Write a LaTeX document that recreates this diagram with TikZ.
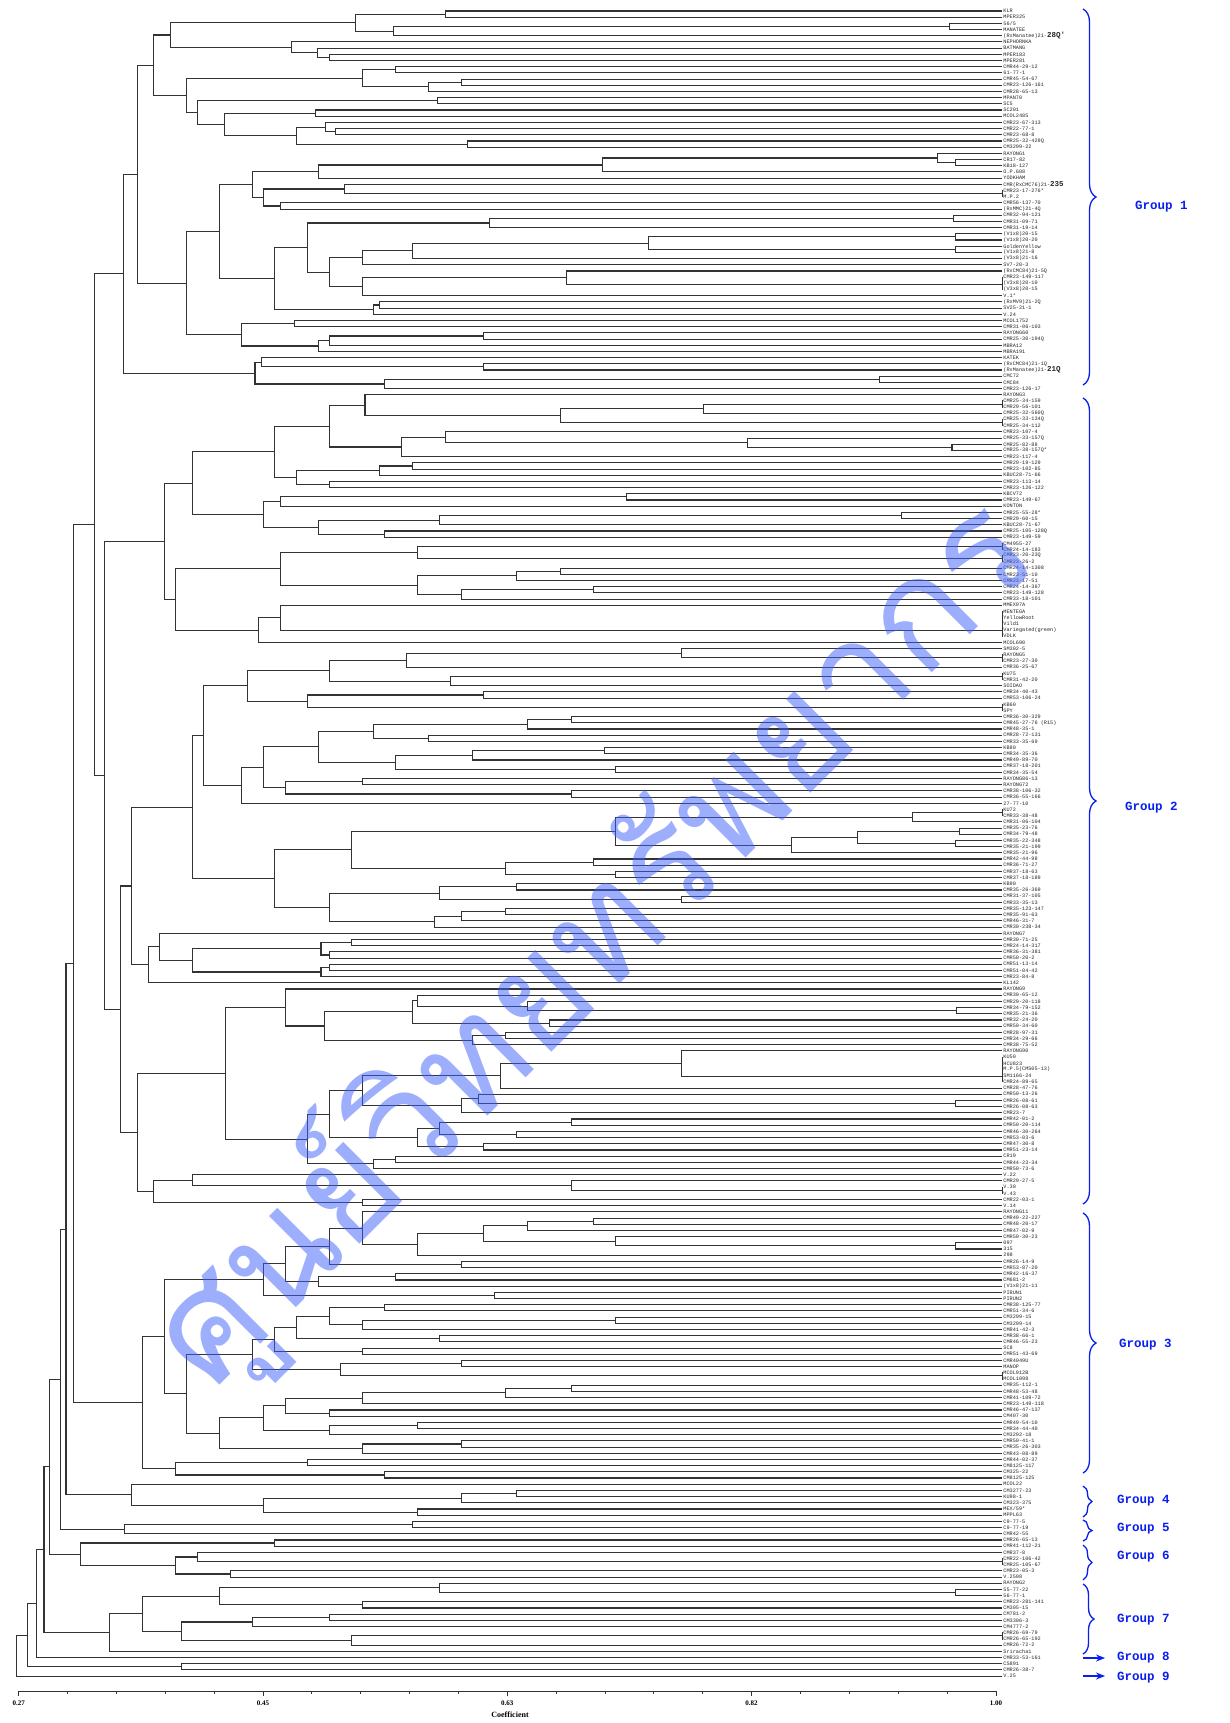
\documentclass[tikz,border=0pt]{standalone}
\usepackage{fontspec}
\setmainfont{Liberation Serif}
\newfontfamily\monof{Liberation Mono}
\newfontfamily\thaif[Script=Thai]{Loma}
\usetikzlibrary{calc,decorations.pathreplacing,arrows.meta}
\definecolor{grpblue}{RGB}{10,30,240}
\definecolor{wmblue}{RGB}{60,95,250}
\tikzset{
  lab/.style={anchor=west,inner sep=0.2pt,font=\monof\fontsize{5.2}{5.6}\selectfont,text=black!85},
  br/.style={draw=black!80,line width=1.1pt},
  gbrace/.style={draw=grpblue,line width=1.3pt,decorate,decoration={brace,amplitude=13pt}},
  glab/.style={anchor=west,inner sep=0pt,text=grpblue,font=\monof\bfseries\fontsize{12.5}{13}\selectfont},
  garrow/.style={draw=grpblue,line width=1.3pt,-{Stealth[length=9pt,width=7pt]}},
  ax/.style={draw=black!80,line width=0.8pt}
}
\newcommand\lf[2]{\coordinate (L#1) at (1002,{-(11+(#1-1)*6.19)});
  \node[lab] (t#1) at (1003,{-(11+(#1-1)*6.19)}) {#2};}
\newcommand\jn[4]{\path let \p1=(#3), \p2=(#4) in coordinate (#1) at ({#2*1.0993},{0.5*(\y1+\y2)});
  \draw[br] (#3) -| (#1) |- (#4);}
\newcommand\bg[1]{{\fontsize{7.5}{7.5}\selectfont\bfseries #1}}
\begin{document}
\begin{tikzpicture}[x=1pt,y=1pt]
\fill[white] (0,0) rectangle (1229,-1723);
\useasboundingbox (0,0) rectangle (1229,-1723);
% ---------------- leaves ----------------
\lf{1}{KLR}\lf{2}{MPER325}\lf{3}{56/5}\lf{4}{MANATEE}\lf{5}{(RxManatee)21-\bg{28Q'}}
\lf{6}{NEPHORNKA}\lf{7}{BATMANG}\lf{8}{MPER183}\lf{9}{MPER281}\lf{10}{CMR44-29-12}
\lf{11}{61-77-1}\lf{12}{CMR45-54-67}\lf{13}{CMR23-126-161}\lf{14}{CMR28-65-13}\lf{15}{MPAN70}
\lf{16}{SC5}\lf{17}{SC201}\lf{18}{MCOL2485}\lf{19}{CMR23-67-313}\lf{20}{CMR22-77-1}
\lf{21}{CMR23-68-8}\lf{22}{CMR25-32-429Q}\lf{23}{CM3299-22}\lf{24}{RAYONG1}\lf{25}{CR17-82}
\lf{26}{KB18-127}\lf{27}{O.P.608}\lf{28}{YODKHAM}\lf{29}{CMR(RxCMC76)21-\bg{235}}\lf{30}{CMR23-17-276*}
\lf{31}{M.P.2}\lf{32}{CMR56-137-70}\lf{33}{(RxMMC)21-4Q}\lf{34}{CMR32-94-121}\lf{35}{CMR31-09-71}
\lf{36}{CMR31-19-14}\lf{37}{(V1x8)20-15}\lf{38}{(V1x8)20-20}\lf{39}{GoldenYellow}\lf{40}{(V1x8)21-8}
\lf{41}{(V3x8)21-16}\lf{42}{SV7-20-3}\lf{43}{(RxCMC84)21-5Q}\lf{44}{CMR23-149-117}\lf{45}{(V3x8)20-10}
\lf{46}{(V3x8)20-15}\lf{47}{V.1*}\lf{48}{(RxMV9)21-2Q}\lf{49}{SV25-21-1}\lf{50}{V.24}
\lf{51}{MCOL1752}\lf{52}{CMR31-06-103}\lf{53}{RAYONG60}\lf{54}{CMR25-30-194Q}\lf{55}{MBRA12}
\lf{56}{MBRA191}\lf{57}{KATEK}\lf{58}{(RxCMC84)21-1Q}\lf{59}{(RxManatee)21-\bg{21Q}}\lf{60}{CMC72}
\lf{61}{CMC84}\lf{62}{CMR23-126-17}\lf{63}{RAYONG3}\lf{64}{CMR25-34-159}\lf{65}{CMR29-56-101}
\lf{66}{CMR25-32-560Q}\lf{67}{CMR25-33-134Q}\lf{68}{CMR25-34-112}\lf{69}{CMR23-107-4}\lf{70}{CMR25-33-157Q}
\lf{71}{CMR25-82-88}\lf{72}{CMR25-38-157Q*}\lf{73}{CMR23-117-4}\lf{74}{CMR29-19-129}\lf{75}{CMR23-102-85}
\lf{76}{KBUC28-71-66}\lf{77}{CMR23-113-14}\lf{78}{CMR23-126-122}\lf{79}{KBCV72}\lf{80}{CMR23-149-67}
\lf{81}{KONTON}\lf{82}{CMR25-55-28*}\lf{83}{CMR29-60-15}\lf{84}{KBUC28-71-67}\lf{85}{CMR25-105-128Q}
\lf{86}{CMR23-149-59}\lf{87}{CM4955-27}\lf{88}{CMR24-14-183}\lf{89}{CMR23-20-23Q}\lf{90}{CMR23-26-2}
\lf{91}{CMR24-14-1308}\lf{92}{CMR23-51-10}\lf{93}{CMR23-17-51}\lf{94}{CMR24-14-367}\lf{95}{CMR23-149-128}
\lf{96}{CMR33-18-101}\lf{97}{MMEX97A}\lf{98}{MENTEGA}\lf{99}{YellowRoot}\lf{100}{Vild1}
\lf{101}{Variegated(green)}\lf{102}{VDLK}\lf{103}{MCOL690}\lf{104}{SM302-5}\lf{105}{RAYONG5}
\lf{106}{CMR23-27-30}\lf{107}{CMR36-25-67}\lf{108}{KU75}\lf{109}{CMR31-42-20}\lf{110}{SOIDAO}
\lf{111}{CMR34-40-43}\lf{112}{CMR53-106-24}\lf{113}{KB60}\lf{114}{SPY}\lf{115}{CMR36-30-329}
\lf{116}{CMR45-27-76 (R15)}\lf{117}{CMR48-35-1}\lf{118}{CMR28-72-131}\lf{119}{CMR33-35-69}\lf{120}{KB80}
\lf{121}{CMR34-35-36}\lf{122}{CMR49-89-70}\lf{123}{CMR37-18-201}\lf{124}{CMR34-35-54}\lf{125}{RAYONG86-13}
\lf{126}{RAYONG72}\lf{127}{CMR38-106-32}\lf{128}{CMR36-55-166}\lf{129}{27-77-10}\lf{130}{KU72}
\lf{131}{CMR33-38-48}\lf{132}{CMR31-06-104}\lf{133}{CMR35-23-76}\lf{134}{CMR34-79-48}\lf{135}{CMR35-22-348}
\lf{136}{CMR35-21-199}\lf{137}{CMR35-21-96}\lf{138}{CMR42-44-98}\lf{139}{CMR36-71-27}\lf{140}{CMR37-18-63}
\lf{141}{CMR37-18-189}\lf{142}{KB90}\lf{143}{CMR35-26-369}\lf{144}{CMR31-37-105}\lf{145}{CMR33-35-13}
\lf{146}{CMR35-123-147}\lf{147}{CMR35-91-63}\lf{148}{CMR46-31-7}\lf{149}{CMR30-238-34}\lf{150}{RAYONG7}
\lf{151}{CMR30-71-25}\lf{152}{CMR24-14-317}\lf{153}{CMR36-31-381}\lf{154}{CMR50-20-2}\lf{155}{CMR51-13-14}
\lf{156}{CMR51-04-42}\lf{157}{CMR23-84-8}\lf{158}{KL142}\lf{159}{RAYONG9}\lf{160}{CMR30-65-12}
\lf{161}{CMR29-20-118}\lf{162}{CMR34-79-152}\lf{163}{CMR35-21-36}\lf{164}{CMR32-24-20}\lf{165}{CMR50-34-60}
\lf{166}{CMR28-97-31}\lf{167}{CMR34-29-66}\lf{168}{CMR38-75-52}\lf{169}{RAYONG90}\lf{170}{KU50}
\lf{171}{HCU823}\lf{172}{M.P.5(CM505-13)}\lf{173}{SM1166-24}\lf{174}{CMR24-89-65}\lf{175}{CMR28-47-76}
\lf{176}{CMR50-13-26}\lf{177}{CMR26-08-61}\lf{178}{CMR26-08-63}\lf{179}{CMR23-7}\lf{180}{CMR42-01-2}
\lf{181}{CMR50-20-114}\lf{182}{CMR46-30-264}\lf{183}{CMR53-03-6}\lf{184}{CMR47-30-8}\lf{185}{CMR51-23-14}
\lf{186}{CR19}\lf{187}{CMR44-23-34}\lf{188}{CMR50-73-6}\lf{189}{V.22}\lf{190}{CMR29-27-5}
\lf{191}{V.30}\lf{192}{V.43}\lf{193}{CMR22-03-1}\lf{194}{V.14}\lf{195}{RAYONG11}
\lf{196}{CMR49-22-227}\lf{197}{CMR48-20-17}\lf{198}{CMR47-02-9}\lf{199}{CMR50-30-23}\lf{200}{097}
\lf{201}{315}\lf{202}{298}\lf{203}{CMR26-14-9}\lf{204}{CMR53-87-20}\lf{205}{CMR42-16-37}
\lf{206}{CM681-2}\lf{207}{(V1x8)21-11}\lf{208}{PIRUN1}\lf{209}{PIRUN2}\lf{210}{CMR38-125-77}
\lf{211}{CMR51-34-6}\lf{212}{CM3299-15}\lf{213}{CM3299-14}\lf{214}{CMR41-42-3}\lf{215}{CMR38-66-1}
\lf{216}{CMR46-55-23}\lf{217}{SC8}\lf{218}{CMR51-43-69}\lf{219}{CMR4049U}\lf{220}{MANOP}
\lf{221}{MCOL912B}\lf{222}{MCOL1098}\lf{223}{CMR35-112-1}\lf{224}{CMR48-53-48}\lf{225}{CMR41-109-72}
\lf{226}{CMR23-149-118}\lf{227}{CMR46-47-137}\lf{228}{CM407-30}\lf{229}{CMR49-54-10}\lf{230}{CMR34-44-40}
\lf{231}{CM3292-18}\lf{232}{CMR50-41-1}\lf{233}{CMR35-26-303}\lf{234}{CMR43-08-89}\lf{235}{CMR44-02-37}
\lf{236}{CM8125-117}\lf{237}{CM325-22}\lf{238}{CM8125-125}\lf{239}{MCOL22}\lf{240}{CM3277-23}
\lf{241}{KU98-1}\lf{242}{CM323-375}\lf{243}{MEX/59*}\lf{244}{MPPL63}\lf{245}{C9-77-5}
\lf{246}{C9-77-19}\lf{247}{CMR42-55}\lf{248}{CMR26-65-13}\lf{249}{CMR41-112-21}\lf{250}{CMR37-8}
\lf{251}{CMR22-106-42}\lf{252}{CMR25-105-67}\lf{253}{CMR23-05-3}\lf{254}{V.2598}\lf{255}{RAYONG2}
\lf{256}{55-77-22}\lf{257}{56-77-1}\lf{258}{CMR23-281-141}\lf{259}{CM305-15}\lf{260}{CM781-2}
\lf{261}{CM3306-3}\lf{262}{CM4777-2}\lf{263}{CMR26-69-79}\lf{264}{CMR26-65-192}\lf{265}{CMR26-72-2}
\lf{266}{Sriracha1}\lf{267}{CMR33-53-161}\lf{268}{CS891}\lf{269}{CMR26-38-7}\lf{270}{V.25}
% ---------------- group 1 ----------------
\jn{a1}{405}{L1}{L2}\jn{a2}{864}{L3}{L4}\jn{a3}{358}{a2}{L5}\jn{a4}{323}{a1}{a3}
\jn{a5}{300}{L8}{L9}\jn{a6}{289}{L7}{a5}\jn{a7}{265}{L6}{a6}\jn{a8}{155}{a4}{a7}
\jn{b1}{360}{L10}{L11}\jn{b2}{420}{L12}{L13}\jn{b3}{390}{b2}{L14}\jn{b4}{330}{b1}{b3}
\jn{b5}{398}{L15}{L16}\jn{b6}{287}{L17}{L18}\jn{b7}{305}{L20}{L21}\jn{b8}{296}{L19}{b7}
\jn{b9}{425}{L22}{L23}\jn{b10}{270}{b8}{b9}\jn{b11}{204}{b6}{b10}\jn{b12}{180}{b5}{b11}
\jn{b13}{170}{b4}{b12}\jn{b14}{140}{a8}{b13}
\jn{c1}{869}{L25}{L26}\jn{c2}{853}{L24}{c1}\jn{c3}{548}{c2}{L27}\jn{c4}{290}{c3}{L28}
\jn{c5}{912}{L30}{L31}\jn{c6}{313}{L29}{c5}\jn{c7}{255}{L32}{L33}\jn{c8}{240}{c6}{c7}
\jn{c9}{230}{c4}{c8}
\jn{d1}{867}{L34}{L35}\jn{d2}{445}{d1}{L36}\jn{d3}{869}{L37}{L38}\jn{d4}{869}{L39}{L40}
\jn{d5}{590}{d3}{d4}\jn{d6}{375}{d5}{L41}\jn{d7}{330}{d6}{L42}\jn{d8}{912}{L44}{L45}
\jn{d9}{912}{d8}{L46}\jn{d10}{515}{L43}{d9}\jn{d11}{330}{d10}{L47}\jn{d12}{300}{d7}{d11}
\jn{d13}{280}{d2}{d12}\jn{d14}{345}{L48}{L49}\jn{d15}{340}{d14}{L50}\jn{d16}{250}{d13}{d15}
\jn{d17}{200}{c9}{d16}
\jn{e1}{268}{L51}{L52}\jn{e2}{440}{L53}{L54}\jn{e3}{300}{e2}{L55}\jn{e4}{290}{e3}{L56}
\jn{e5}{220}{e1}{e4}\jn{f1}{170}{d17}{e5}\jn{g1}{125}{b14}{f1}
\jn{h1}{440}{L58}{L59}\jn{h2}{238}{L57}{h1}\jn{h3}{800}{L60}{L61}\jn{h4}{350}{h3}{L62}
\jn{h5}{232}{h2}{h4}\jn{G1}{112}{g1}{h5}
% ---------------- group 2 ----------------
\jn{k1}{912}{L64}{L65}\jn{k2}{640}{k1}{L66}\jn{k3}{912}{L67}{L68}\jn{k4}{510}{k2}{k3}
\jn{k5}{332}{L63}{k4}\jn{k6}{866}{L71}{L72}\jn{k7}{680}{L70}{k6}\jn{k8}{405}{L69}{k7}
\jn{k9}{365}{k8}{L73}\jn{k10}{300}{k5}{k9}\jn{k11}{375}{L74}{L75}\jn{k12}{345}{k11}{L76}
\jn{k13}{300}{L77}{L78}\jn{k14}{270}{k12}{k13}\jn{k15}{250}{k10}{k14}
\jn{k16}{570}{L79}{L80}\jn{k17}{255}{k16}{L81}\jn{k18}{820}{L82}{L83}\jn{k19}{400}{k18}{L84}
\jn{k20}{350}{L85}{L86}\jn{k21}{290}{k19}{k20}\jn{k22}{240}{k17}{k21}\jn{k23}{175}{k15}{k22}
\jn{k24}{912}{L87}{L88}\jn{k25}{912}{L89}{L90}\jn{k26}{380}{k24}{k25}\jn{k27}{510}{L91}{L92}
\jn{k28}{470}{k27}{L93}\jn{k29}{540}{L94}{L95}\jn{k30}{420}{k29}{L96}\jn{k31}{380}{k28}{k30}
\jn{k32}{255}{k26}{k31}
\jn{k34}{912}{L98}{L99}\jn{k35}{912}{k34}{L100}\jn{k36}{912}{k35}{L101}\jn{k37}{912}{k36}{L102}
\jn{k38}{255}{L97}{k37}\jn{k39}{235}{k38}{L103}\jn{k40}{160}{k32}{k39}\jn{K2a}{150}{k23}{k40}
\jn{m1}{912}{L105}{L106}\jn{m2}{620}{L104}{m1}\jn{m3}{370}{m2}{L107}\jn{m4}{912}{L108}{L109}
\jn{m5}{410}{m4}{L110}\jn{m6}{300}{m3}{m5}\jn{m7}{440}{L111}{L112}\jn{m8}{912}{L113}{L114}
\jn{m9}{280}{m7}{m8}\jn{m10}{225}{m6}{m9}
\jn{m11}{520}{L115}{L116}\jn{m12}{480}{m11}{L117}\jn{m13}{390}{L118}{L119}\jn{m14}{340}{m12}{m13}
\jn{m15}{550}{L120}{L121}\jn{m16}{430}{m15}{L122}\jn{m17}{560}{L123}{L124}\jn{m18}{360}{m16}{m17}
\jn{m19}{290}{m14}{m18}\jn{m20}{330}{L125}{L126}\jn{m21}{520}{L127}{L128}\jn{m22}{260}{m20}{m21}
\jn{m23}{240}{m19}{m22}\jn{m24}{220}{m23}{L129}\jn{m25}{185}{m10}{m24}
\jn{m26}{912}{L130}{L131}\jn{m27}{830}{m26}{L132}\jn{m28}{873}{L133}{L134}\jn{m29}{869}{L135}{L136}
\jn{m30}{780}{m28}{m29}\jn{m31}{720}{m30}{L137}\jn{m32}{560}{m27}{m31}\jn{m33}{540}{L138}{L139}
\jn{m34}{560}{L140}{L141}\jn{m35}{460}{m33}{m34}\jn{m36}{320}{m32}{m35}\jn{m37}{470}{L142}{L143}
\jn{m38}{620}{L144}{L145}\jn{m39}{400}{m37}{m38}\jn{m40}{460}{L146}{L147}\jn{m41}{420}{m40}{L148}
\jn{m42}{395}{m41}{L149}\jn{m43}{300}{m39}{m42}\jn{m44}{250}{m36}{m43}\jn{m45}{175}{m25}{m44}
\jn{n1}{320}{L151}{L152}\jn{n2}{300}{L153}{L154}\jn{n3}{292}{n1}{n2}\jn{n4}{300}{L155}{L156}
\jn{n5}{292}{n4}{L157}\jn{n6}{175}{n3}{n5}\jn{n7}{145}{L150}{n6}\jn{n8}{135}{n7}{L158}
\jn{p1}{870}{L162}{L163}\jn{p2}{480}{L161}{p1}\jn{p3}{380}{L160}{p2}\jn{p4}{500}{L164}{L165}
\jn{p5}{375}{p3}{p4}\jn{p6}{460}{L166}{L167}\jn{p7}{430}{p6}{L168}\jn{p8}{295}{p5}{p7}
\jn{p9}{260}{L159}{p8}
\jn{q1}{912}{L170}{L171}\jn{q2}{912}{q1}{L172}\jn{q3}{912}{q2}{L173}\jn{q4}{912}{q3}{L174}
\jn{q5}{620}{L169}{q4}\jn{q6}{455}{q5}{L175}\jn{q7}{869}{L177}{L178}\jn{q8}{435}{L176}{q7}
\jn{q9}{420}{q8}{L179}\jn{q10}{330}{q6}{q9}\jn{q11}{520}{L180}{L181}\jn{q12}{470}{L182}{L183}
\jn{q13}{400}{q11}{q12}\jn{q14}{440}{L184}{L185}\jn{q15}{380}{q13}{q14}\jn{q16}{300}{q10}{q15}
\jn{q17}{360}{L186}{L187}\jn{q18}{340}{q17}{L188}\jn{q19}{280}{q16}{q18}\jn{q20}{205}{p9}{q19}
\jn{r1}{912}{L191}{L192}\jn{r2}{520}{L190}{r1}\jn{r3}{175}{L189}{r2}\jn{r4}{330}{L193}{L194}
\jn{r5}{140}{r3}{r4}\jn{r6}{125}{q20}{r5}
\jn{s1}{120}{m45}{n8}\jn{s2}{110}{s1}{r6}\jn{G2}{95}{K2a}{s2}
% ---------------- group 3 ----------------
\jn{t1}{540}{L196}{L197}\jn{t2}{480}{t1}{L198}\jn{t3}{869}{L200}{L201}\jn{t4}{560}{L199}{t3}
\jn{t5}{440}{t2}{t4}\jn{t6}{380}{t5}{L202}\jn{t7}{330}{L195}{t6}\jn{t8}{420}{L203}{L204}
\jn{t9}{300}{t7}{t8}\jn{t10}{360}{L205}{L206}\jn{t11}{290}{t10}{L207}\jn{t12}{260}{t9}{t11}
\jn{t13}{450}{L208}{L209}\jn{t14}{240}{t12}{t13}
\jn{u1}{350}{L210}{L211}\jn{u2}{560}{L212}{L213}\jn{u3}{330}{u2}{L214}\jn{u4}{300}{u1}{u3}
\jn{u5}{400}{L215}{L216}\jn{u6}{270}{u4}{u5}\jn{u7}{330}{L217}{L218}\jn{u8}{250}{u6}{u7}
\jn{u9}{420}{L219}{L220}\jn{u10}{912}{L221}{L222}\jn{u11}{310}{u9}{u10}\jn{u12}{230}{u8}{u11}
\jn{v1}{520}{L223}{L224}\jn{v2}{460}{v1}{L225}\jn{v3}{330}{v2}{L226}\jn{v4}{300}{L227}{L228}
\jn{v5}{260}{v3}{v4}\jn{v6}{380}{L229}{L230}\jn{v7}{300}{v6}{L231}\jn{v8}{240}{v5}{v7}
\jn{v9}{420}{L232}{L233}\jn{v10}{330}{v9}{L234}\jn{v11}{200}{v8}{v10}\jn{v12}{170}{u12}{v11}
\jn{w1}{280}{L235}{L236}\jn{w2}{350}{L237}{L238}\jn{w3}{160}{w1}{w2}\jn{w4}{150}{t14}{v12}
\jn{G3}{130}{w4}{w3}
% ---------------- groups 4-9 ----------------
\jn{x1}{470}{L240}{L241}\jn{x2}{420}{x1}{L242}\jn{x3}{380}{L243}{L244}\jn{x4}{240}{x2}{x3}
\jn{G4}{120}{L239}{x4}
\jn{y1}{375}{L245}{L246}\jn{G5}{113}{y1}{L247}
\jn{z1}{250}{L248}{L249}\jn{z2}{912}{L251}{L252}\jn{z3}{180}{L250}{z2}\jn{z4}{210}{L253}{L254}
\jn{z5}{160}{z3}{z4}\jn{G6}{73}{z1}{z5}
\jn{aa1}{869}{L256}{L257}\jn{aa2}{400}{L255}{aa1}\jn{aa3}{330}{L258}{L259}\jn{aa4}{200}{aa2}{aa3}
\jn{aa5}{300}{L260}{L261}\jn{aa6}{230}{aa5}{L262}\jn{aa7}{912}{L263}{L264}\jn{aa8}{320}{aa7}{L265}
\jn{aa9}{165}{aa6}{aa8}\jn{aa10}{130}{aa4}{aa9}\jn{G7}{100}{aa10}{L266}
\jn{bb1}{165}{L268}{L269}
\jn{T1}{86}{G1}{G2}\jn{T2}{67}{T1}{G3}\jn{T3}{60}{T2}{G4}\jn{T4}{55}{T3}{G5}
\jn{T5}{45}{T4}{G6}\jn{T6}{40}{T5}{G7}\jn{T7}{33}{T6}{L267}\jn{T8}{25}{T7}{bb1}\jn{T9}{15}{T8}{L270}
% ---------------- axis ----------------
\draw[ax] (18.7,-1691) -- (996,-1691);
\foreach \k/\t in {0/0.27,1/0.45,2/0.63,3/0.82,4/1.00}{
  \draw[ax] ({18.7+\k*244.3},-1691) -- ({18.7+\k*244.3},-1696);
  \node[font=\bfseries\fontsize{7}{8}\selectfont,inner sep=0pt] (tk\k) at ({18.7+\k*244.3},-1703) {\t};}
\foreach \k in {1,...,19}{\draw[ax] ({18.7+\k*48.86},-1691) -- ({18.7+\k*48.86},-1694);}
\node[font=\bfseries\fontsize{8}{9}\selectfont,inner sep=0pt] (coef) at (510,-1715) {Coefficient};
% ---------------- groups ----------------
\draw[gbrace] (1083,-9) -- (1083,-385);
\draw[gbrace] (1083,-398) -- (1083,-1204);
\draw[gbrace] (1083,-1213) -- (1083,-1473);
\draw[gbrace,decoration={brace,amplitude=9pt}] (1083,-1486) -- (1083,-1517);
\draw[gbrace,decoration={brace,amplitude=9pt}] (1083,-1520) -- (1083,-1541);
\draw[gbrace,decoration={brace,amplitude=9pt}] (1083,-1545) -- (1083,-1580);
\draw[gbrace,decoration={brace,amplitude=11pt}] (1083,-1584) -- (1083,-1654);
\coordinate (a8s) at (1083,-1658); \coordinate (a8e) at (1105,-1658);
\coordinate (a9s) at (1083,-1676); \coordinate (a9e) at (1105,-1676);
\draw[garrow] (a8s) -- (a8e);
\draw[garrow] (a9s) -- (a9e);
\node[glab] (g1) at (1135,-207) {Group 1};
\node[glab] (g2) at (1125,-808) {Group 2};
\node[glab] (g3) at (1119,-1345) {Group 3};
\node[glab] (g4) at (1117,-1501) {Group 4};
\node[glab] (g5) at (1117,-1529) {Group 5};
\node[glab] (g6) at (1117,-1557) {Group 6};
\node[glab] (g7) at (1117,-1620) {Group 7};
\node[glab] (g8) at (1117,-1658) {Group 8};
\node[glab] (g9) at (1117,-1678) {Group 9};
% ---------------- watermark ----------------
\node[rotate=45,text=wmblue,text opacity=0.5,inner sep=0pt] (wm) at (594,-945)
  {\thaif\fontsize{150}{150}\selectfont ศูนย์วิทยทรัพยากร};
\end{tikzpicture}
\end{document}
